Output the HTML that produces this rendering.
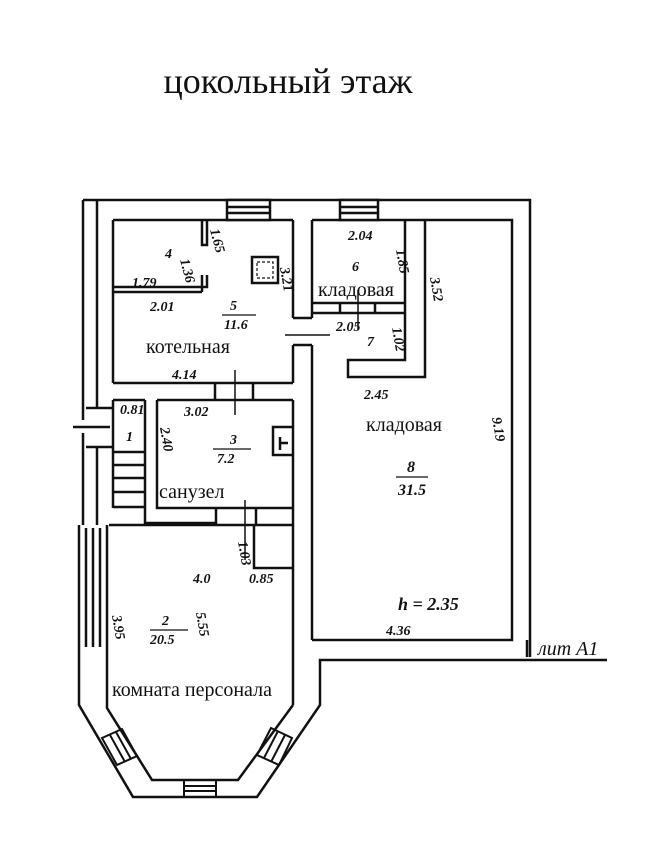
<!DOCTYPE html>
<html><head><meta charset="utf-8"><style>
html,body{margin:0;padding:0;background:#fff;}
svg{display:block}
text{font-family:"Liberation Serif",serif;fill:#111}
.h{font-family:"Liberation Sans",sans-serif;font-style:italic;font-size:14px;font-weight:bold}
</style></head><body>
<svg width="665" height="850" viewBox="0 0 665 850" xmlns="http://www.w3.org/2000/svg">
<text x="288" y="93" font-size="36" text-anchor="middle">цокольный этаж</text>
<g fill="none" stroke="#111" stroke-width="2.5">
<path d="M83 200 H530 V657"/>
<path d="M113 220 H293 M312 220 H512 V640 H312"/>
<path d="M83 200 V420"/>
<path d="M83 433 V525"/>
<path d="M79 525 V705 L133 797 H257 L320 705 V660 H607"/>
<path d="M113 220 V383 M113 400 V508"/>
<path d="M97 200 V408 M97 447 V525"/>
<path d="M86 408 H113 M86 447 H113 M73 427 H110"/>
<path d="M293 220 V318 M293 345 V383 M293 400 V705 M312 220 V318 M312 345 V640"/>
<path d="M293 318 H312 M293 345 H312"/>
<rect x="227" y="200" width="43" height="20" fill="#fff"/>
<path d="M227 207 H270 M227 213 H270"/>
<rect x="340" y="200" width="38" height="20" fill="#fff"/>
<path d="M340 207 H378 M340 213 H378"/>
<path d="M113 287 H207 V275 M113 292 H202 M202 275 V292"/>
<path d="M202 220 V245 H207 V220"/>
<rect x="252" y="257" width="26" height="26"/>
<rect x="257" y="262" width="16" height="16" stroke-width="1.2" stroke-dasharray="3 2"/>
<path d="M405 220 V360 H348 V377 H425 V220"/>
<path d="M312 303 H405 M312 313 H405 M340 303 V313 M375 303 V313"/>
<path d="M358 290 V330" stroke-width="1.5"/>
<path d="M285 335 H330" stroke-width="1.5"/>
<path d="M113 383 H293 M113 400 H145 M157 400 H293 M215 383 V400 M253 383 V400"/>
<path d="M235 370 V415" stroke-width="1.5"/>
<path d="M145 400 V523 H216 M157 400 V508 H293 M256 508 V525 M216 508 V525"/>
<path d="M245 500 V560" stroke-width="1.5"/>
<path d="M293 427 H273 V455 H293 M280 437 V450 M280 443 H288" />
<path d="M113 452 H145 M113 465 H145 M113 478 H145 M113 492 H145 M113 507 H145"/>
<path d="M109 525 H293 M107 525 V708 L152 780 H238 L293 705"/>
<path d="M254 525 V568 H293"/>
<path d="M86 528 V647 M93 528 V647 M100 528 V647"/>
<path d="M102 738 L122 729 L137 756 L117 765 Z M110 735 L125 762 M116 732 L131 759" stroke-width="2"/>
<path d="M271 728 L292 738 L279 765 L257 755 Z M278 731 L264 758 M285 735 L271 762" stroke-width="2"/>
<path d="M184 780 V797 M216 780 V797 M184 786 H216 M184 791 H216" stroke-width="2"/>
<path d="M527 640 V657" />
</g>
<g font-size="20">
<text x="318" y="296">кладовая</text>
<text x="146" y="353">котельная</text>
<text x="366" y="431">кладовая</text>
<text x="159" y="498">санузел</text>
<text x="112" y="696">комната персонала</text>
</g>
<g class="h">
<text x="348" y="240">2.04</text><text x="352" y="271">6</text>
<text x="396" y="250" transform="rotate(80 396 250)">1.85</text>
<text x="430" y="278" transform="rotate(80 430 278)">3.52</text>
<text x="336" y="331">2.05</text><text x="367" y="346">7</text>
<text x="392" y="328" transform="rotate(80 392 328)">1.02</text>
<text x="364" y="399">2.45</text>
<text x="492" y="418" transform="rotate(80 492 418)">9.19</text>
<text x="407" y="472" font-size="16">8</text>
<line x1="396" y1="477" x2="428" y2="477" stroke="#111" stroke-width="1.3"/>
<text x="398" y="495" font-size="16">31.5</text>
<text x="398" y="610" font-size="18">h = 2.35</text>
<text x="386" y="635">4.36</text>
<text x="538" y="655" font-size="20" font-weight="normal">лит А1</text>
<text x="165" y="258">4</text>
<text x="180" y="260" transform="rotate(75 180 260)">1.36</text>
<text x="210" y="230" transform="rotate(75 210 230)">1.65</text>
<text x="132" y="287">1.79</text>
<text x="150" y="311">2.01</text>
<text x="230" y="310">5</text>
<line x1="222" y1="315" x2="256" y2="315" stroke="#111" stroke-width="1.3"/>
<text x="224" y="329">11.6</text>
<text x="280" y="268" transform="rotate(80 280 268)">3.21</text>
<text x="172" y="379">4.14</text>
<text x="120" y="414">0.81</text><text x="126" y="441">1</text>
<text x="184" y="416">3.02</text>
<text x="160" y="428" transform="rotate(80 160 428)">2.40</text>
<text x="230" y="444">3</text>
<line x1="213" y1="449" x2="251" y2="449" stroke="#111" stroke-width="1.3"/>
<text x="217" y="463">7.2</text>
<text x="238" y="542" transform="rotate(80 238 542)">1.03</text>
<text x="193" y="583">4.0</text>
<text x="249" y="583">0.85</text>
<text x="112" y="616" transform="rotate(80 112 616)">3.95</text>
<text x="162" y="625">2</text>
<line x1="150" y1="630" x2="188" y2="630" stroke="#111" stroke-width="1.3"/>
<text x="150" y="644">20.5</text>
<text x="196" y="613" transform="rotate(80 196 613)">5.55</text>
</g>
</svg>
</body></html>
